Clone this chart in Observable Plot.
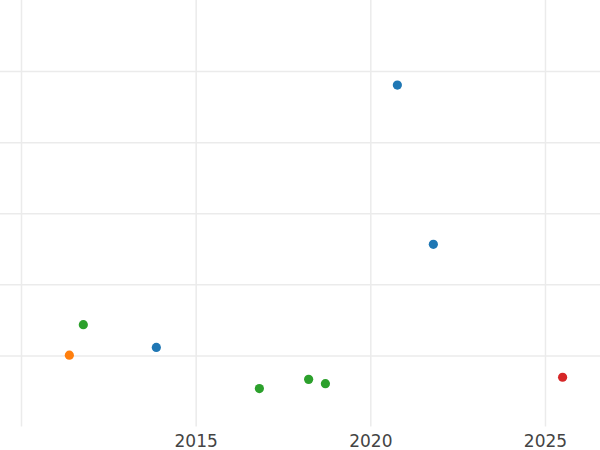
<!DOCTYPE html>
<html>
<head>
<meta charset="utf-8">
<script src="https://cdn.jsdelivr.net/npm/d3@7"></script>
<script src="https://cdn.jsdelivr.net/npm/@observablehq/plot@0.6"></script>
<style>
  html, body { margin: 0; padding: 0; background: #fff; }
  #chart svg { display: block; }
</style>
</head>
<body>
<div id="chart"></div>
<script>
// Data
const years  = [2011.37, 2011.77, 2013.86, 2016.81, 2018.22, 2018.70, 2020.76, 2021.79, 2025.49];
const values = [1.01,    1.44,    1.12,    0.54,    0.67,    0.61,    4.81,    2.57,    0.70];
const groups = ["B",     "C",     "A",     "C",     "C",     "C",     "A",     "A",     "D"];
const groupNames = ["A", "B", "C", "D"];
const groupColors = ["#1f77b4", "#ff7f0e", "#2ca02c", "#d62728"];
const xGrid = [2010, 2015, 2020, 2025];
const xTickLabels = [2015, 2020, 2025];
const yGrid = [1, 2, 3, 4, 5];

const points = years.map((y, i) => ({year: y, value: values[i], group: groups[i]}));

const chart = Plot.plot({
  width: 600,
  height: 450,
  marginLeft: 0,
  marginRight: 0,
  marginTop: 0,
  marginBottom: 23.5,
  style: {fontFamily: "DejaVu Sans, sans-serif", background: "#fff"},
  x: {domain: [2009.399, 2026.575], label: null},
  y: {domain: [0, 6], label: null, axis: null},
  color: {domain: groupNames, range: groupColors},
  marks: [
    Plot.ruleY(yGrid, {y: d => d, stroke: "#ebebeb", strokeWidth: 1.5}),
    Plot.ruleX(xGrid, {x: d => d, stroke: "#ebebeb", strokeWidth: 1.5}),
    Plot.axisX(xTickLabels, {tickSize: 0, tickPadding: 8, fontSize: 17, fill: "#444", label: null, tickFormat: d => String(d)}),
    Plot.dot(points, {x: "year", y: "value", fill: "group", r: 4.6, stroke: "none"})
  ]
});
document.getElementById("chart").appendChild(chart);
</script>
</body>
</html>
